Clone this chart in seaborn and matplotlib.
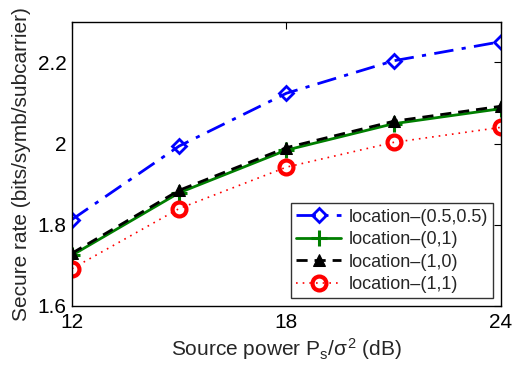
import matplotlib
matplotlib.use("Agg")
import matplotlib.pyplot as plt
import seaborn as sns
import pandas as pd
from matplotlib.ticker import FuncFormatter

sns.set_style("white")
plt.rcParams['font.family'] = ['Liberation Sans', 'DejaVu Sans']
plt.rcParams['mathtext.fontset'] = 'custom'
plt.rcParams['mathtext.rm'] = 'Liberation Sans'
plt.rcParams['mathtext.it'] = 'Liberation Sans'

snr_db = [12, 15, 18, 21, 24]
loc_05_05 = [1.813, 1.994, 2.124, 2.204, 2.251]
loc_0_1 = [1.725, 1.879, 1.984, 2.049, 2.086]
loc_1_0 = [1.730, 1.885, 1.990, 2.055, 2.092]
loc_1_1 = [1.692, 1.840, 1.942, 2.003, 2.040]
labels = ["location\u2013(0.5,0.5)", "location\u2013(0,1)", "location\u2013(1,0)", "location\u2013(1,1)"]

fig = plt.figure(figsize=(5.18, 3.70), dpi=100)
ax = fig.add_axes([0.139, 0.173, 0.8276, 0.768])

styles = [
    dict(color='#0000ff', linestyle=(0, (7, 3, 1.5, 3)), marker='D', markersize=7,
         markerfacecolor='none', markeredgecolor='#0000ff', markeredgewidth=2, linewidth=2),
    dict(color='#007f00', linestyle='-', marker='+', markersize=12,
         markeredgecolor='#007f00', markeredgewidth=2.2, linewidth=2),
    dict(color='black', linestyle=(0, (4, 2.5)), marker='^', markersize=9,
         markerfacecolor='black', markeredgecolor='black', linewidth=2),
    dict(color='#ff0000', linestyle=(0, (1, 3)), marker='o', markersize=10,
         markerfacecolor='none', markeredgecolor='#ff0000', markeredgewidth=3, linewidth=1.2),
]
series = [loc_05_05, loc_0_1, loc_1_0, loc_1_1]
handles = []
for vals, lab, st in zip(series, labels, styles):
    df = pd.DataFrame({'x': snr_db, 'y': vals})
    n0 = len(ax.lines)
    sns.lineplot(data=df, x='x', y='y', ax=ax, legend=False, **st)
    ln = ax.lines[n0]
    ln.set_linestyle(st['linestyle'])
    ln.set_markeredgecolor(st['markeredgecolor'])
    handles.append(ln)

ax.set_xlim(12, 24)
ax.set_ylim(1.6, 2.3)
ax.set_xticks([12, 18, 24])
ax.set_yticks([1.6, 1.8, 2.0, 2.2])
ax.yaxis.set_major_formatter(FuncFormatter(lambda v, p: ('%g' % round(v, 2))))
ax.tick_params(direction='in', top=True, right=True, length=5, width=0.8,
               labelsize=15, colors='black', pad=4)
ax.tick_params(axis='x', pad=5)
for s in ax.spines.values():
    s.set_color('black')
    s.set_linewidth(1.0)
ax.set_xlabel(r"Source power P$_s$/$\sigma^2$ (dB)", fontsize=15, labelpad=3)
ax.set_ylabel("Secure rate (bits/symb/subcarrier)", fontsize=15, labelpad=5)

leg = ax.legend(handles, labels, loc='lower right', fontsize=13, frameon=True, fancybox=False,
                edgecolor='black', borderaxespad=0.42, handlelength=2.5, numpoints=1,
                handletextpad=0.4, labelspacing=0.3, borderpad=0.3)
leg.get_frame().set_linewidth(1.0)

fig.savefig("out.png", dpi=100)
